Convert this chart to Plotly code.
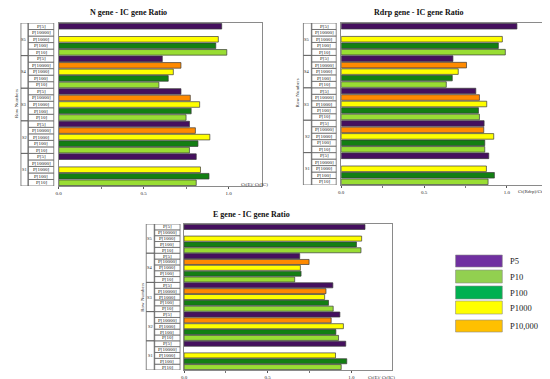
import plotly.graph_objects as go

W, H = 550, 379

groups = ["S1", "S2", "S3", "S4", "S5"]
dilutions = ["P[10]", "P[100]", "P[1000]", "P[10000]", "P[5]"]
series_names = ["P5", "P10", "P100", "P1000", "P10,000"]

# values per dilution, ordered S1..S5 (None = no bar)
n_p5 = [0.81, 0.77, 0.72, 0.61, 0.96]
n_p10 = [0.81, 0.77, 0.75, 0.59, 0.99]
n_p100 = [0.885, 0.82, 0.78, 0.645, 0.925]
n_p1000 = [0.835, 0.89, 0.83, 0.675, 0.94]
n_p10000 = [None, 0.805, 0.775, 0.72, None]

r_p5 = [0.89, 0.862, 0.812, 0.674, 1.06]
r_p10 = [0.886, 0.866, 0.834, 0.634, 0.99]
r_p100 = [0.924, 0.866, 0.828, 0.67, 0.948]
r_p1000 = [0.876, 0.92, 0.878, 0.706, 0.972]
r_p10000 = [None, 0.86, 0.834, 0.756, None]

e_p5 = [0.966, 0.931, 0.889, 0.691, 1.081]
e_p10 = [0.939, 0.923, 0.891, 0.661, 1.057]
e_p100 = [0.972, 0.907, 0.863, 0.699, 1.03]
e_p1000 = [0.905, 0.952, 0.84, 0.695, 1.061]
e_p10000 = [None, 0.879, 0.848, 0.747, None]

titles = ["N gene - IC gene Ratio", "Rdrp gene - IC gene Ratio", "E gene - IC gene Ratio"]
xtitles = ["Ct(E)/ Ct(IC)", "Ct(Rdrp)/Ct(IC)", "Ct(E)/ Ct(IC)"]
row_title = "Row Numbers"
tick_vals = [0.0, 0.5, 1.0]
tick_text = ["0.0", "0.5", "1.0"]

bar_colors = {"P[5]": "#45105E", "P[10]": "#99DD33", "P[100]": "#137F13",
              "P[1000]": "#FFFF00", "P[10000]": "#FF8A00"}
legend_colors = ["#7030A0", "#92D050", "#00B050", "#FFFF00", "#FFC000"]

FONT = "Liberation Serif"

panels = [
    dict(data={"P[5]": n_p5, "P[10]": n_p10, "P[100]": n_p100, "P[1000]": n_p1000, "P[10000]": n_p10000},
         x0=48, x1=252, xr=1.0 / 170.7, y0=15, y1=178, outer=10, gcol=17, box1=43,
         tx=118, ty=5, rx=5, ry=95, xtx=229, xty=176),
    dict(data={"P[5]": r_p5, "P[10]": r_p10, "P[100]": r_p100, "P[1000]": r_p1000, "P[10000]": r_p10000},
         x0=332, x1=540, xr=1.0 / 166.7, y0=15, y1=177, outer=294, gcol=302, box1=327,
         tx=410, ty=5, rx=289, ry=85, xtx=508, xty=183),
    dict(data={"P[5]": e_p5, "P[10]": e_p10, "P[100]": e_p100, "P[1000]": e_p1000, "P[10000]": e_p10000},
         x0=174, x1=383, xr=1.0 / 168.3, y0=216, y1=362, outer=136, gcol=144, box1=170,
         tx=242, ty=206, rx=131.5, ry=289, xtx=357, xty=369),
]

cats = [f"{g} {d}" for g in groups for d in dilutions]

fig = go.Figure()
shapes = []
annotations = []
layout = {}

def px(x):
    return x / W

def py(y):
    return 1 - y / H

for k, p in enumerate(panels):
    sfx = "" if k == 0 else str(k + 1)
    xa, ya = "x" + sfx, "y" + sfx
    for d in ["P[10]", "P[100]", "P[1000]", "P[10000]", "P[5]"]:
        vals = p["data"][d]
        ys = [f"{g} {d}" for g in groups]
        fig.add_trace(go.Bar(
            x=vals, y=ys, orientation="h", xaxis=xa, yaxis=ya,
            marker=dict(color=bar_colors[d], line=dict(color="#3a3a3a", width=0.7)),
            width=0.86, showlegend=False, hoverinfo="x+y"))
    xmax = (p["x1"] - p["x0"]) * p["xr"]
    layout["xaxis" + sfx] = dict(
        domain=[px(p["x0"]), px(p["x1"])], anchor=ya, range=[0, xmax],
        tickvals=tick_vals, ticktext=tick_text, ticks="outside", ticklen=2,
        tickwidth=0.6, tickcolor="#555",
        minor=dict(tickvals=[0.25, 0.75], ticks="outside", ticklen=1.5, tickcolor="#777"),
        tickfont=dict(family=FONT, size=5, color="#222"),
        showline=True, linecolor="#8a8a8a", linewidth=1, mirror=True,
        showgrid=False, zeroline=False, fixedrange=True)
    layout["yaxis" + sfx] = dict(
        domain=[py(p["y1"]), py(p["y0"])], anchor=xa, type="category",
        categoryorder="array", categoryarray=cats, range=[-0.5, len(cats) - 0.5],
        showticklabels=False, ticks="", showline=True, linecolor="#8a8a8a",
        linewidth=1, mirror=True, showgrid=False, zeroline=False, fixedrange=True)
    # label column
    for i, c in enumerate(cats):
        shapes.append(dict(type="rect", xref="paper", yref=ya,
                           x0=px(p["gcol"] + 0.5), x1=px(p["box1"]), y0=i - 0.5, y1=i + 0.5,
                           line=dict(color="#555", width=0.7), fillcolor="white", layer="below"))
        annotations.append(dict(text=c.split(" ")[1], x=px((p["gcol"] + p["box1"]) / 2 + 0.3),
                                y=c, xref="paper", yref=ya, showarrow=False,
                                font=dict(family=FONT, size=5, color="#111"),
                                xanchor="center", yanchor="middle"))
    for gi, g in enumerate(groups):
        shapes.append(dict(type="rect", xref="paper", yref=ya,
                           x0=px(p["outer"]), x1=px(p["gcol"]), y0=gi * 5 - 0.5, y1=gi * 5 + 4.5,
                           line=dict(color="#555", width=0.7), layer="below"))
        annotations.append(dict(text=g, x=px((p["outer"] + p["gcol"]) / 2), y=f"{g} P[1000]",
                                xref="paper", yref=ya, showarrow=False,
                                font=dict(family=FONT, size=4.5, color="#222"),
                                xanchor="center", yanchor="middle"))
    annotations.append(dict(text=f"<b>{titles[k]}</b>", x=px(p["tx"]), y=py(p["ty"]),
                            xref="paper", yref="paper", showarrow=False,
                            font=dict(family=FONT, size=8, color="#111"),
                            xanchor="center", yanchor="middle"))
    annotations.append(dict(text=row_title, x=px(p["rx"]), y=py(p["ry"]),
                            xref="paper", yref="paper", showarrow=False, textangle=-90,
                            font=dict(family=FONT, size=5, color="#333"),
                            xanchor="center", yanchor="middle"))
    annotations.append(dict(text=xtitles[k], x=px(p["xtx"]), y=py(p["xty"]),
                            xref="paper", yref="paper", showarrow=False,
                            font=dict(family=FONT, size=5, color="#333"),
                            xanchor="left", yanchor="middle"))

# legend (drawn as swatches)
leg_rows = [(247, 259), (262, 275), (278, 291), (293, 306), (312, 324)]
for (t, b), name, col in zip(leg_rows, series_names, legend_colors):
    shapes.append(dict(type="rect", xref="paper", yref="paper",
                       x0=px(447), x1=px(494), y0=py(b), y1=py(t),
                       line=dict(color="#8a8a8a", width=0.6), fillcolor=col))
    annotations.append(dict(text=name, x=px(500), y=py((t + b) / 2), xref="paper", yref="paper",
                            showarrow=False, font=dict(family=FONT, size=8.5, color="#222"),
                            xanchor="left", yanchor="middle"))

fig.update_layout(
    width=W, height=H, margin=dict(l=0, r=0, t=0, b=0),
    paper_bgcolor="white", plot_bgcolor="white", barmode="overlay",
    shapes=shapes, annotations=annotations, showlegend=False, **layout)

fig.write_html("out.html", config={"displayModeBar": False})
